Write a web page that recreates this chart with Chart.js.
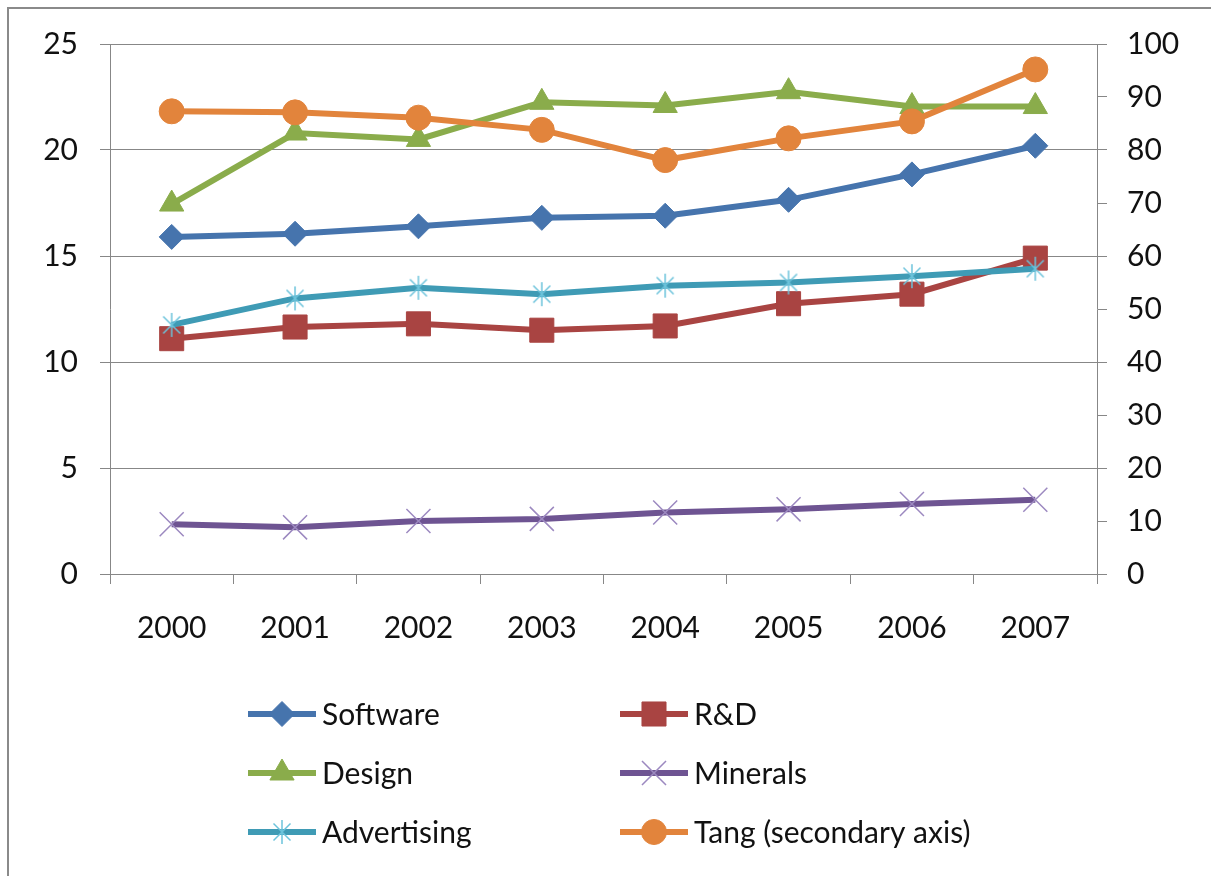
<!DOCTYPE html>
<html>
<head>
<meta charset="utf-8">
<script src="https://cdn.jsdelivr.net/npm/chart.js@4/dist/chart.umd.min.js"></script>
<style>
  body { margin: 0; background: #fff; }
  #wrap { width: 1211px; height: 876px; }
</style>
</head>
<body>
<div id="wrap"><canvas id="chart" width="1211" height="876"></canvas></div>
<script>
// values
const years       = ['2000', '2001', '2002', '2003', '2004', '2005', '2006', '2007']
const software    = [15.9, 16.05, 16.4, 16.8, 16.9, 17.65, 18.85, 20.2]
const rnd         = [11.1, 11.65, 11.8, 11.5, 11.7, 12.75, 13.2, 14.9]
const design      = [17.45, 20.8, 20.5, 22.25, 22.1, 22.75, 22.05, 22.05]
const minerals    = [2.35, 2.2, 2.5, 2.6, 2.9, 3.05, 3.3, 3.5]
const advertising = [11.75, 13.0, 13.5, 13.2, 13.6, 13.75, 14.05, 14.4]
const tang        = [87.3, 87.1, 86.1, 83.8, 78.1, 82.2, 85.4, 95.2]   // secondary axis

const FONT = 'Lato, "Open Sans", sans-serif'
const GRID = '#878787'

// Excel "star" marker: vertical bar + x
function starMarker(color) {
    const c = document.createElement('canvas')
    c.width = 26; c.height = 26
    const g = c.getContext('2d')
    g.strokeStyle = color
    g.lineWidth = 1.5
    g.beginPath()
    g.moveTo(13, 1); g.lineTo(13, 25)
    g.moveTo(4.5, 4.5); g.lineTo(21.5, 21.5)
    g.moveTo(21.5, 4.5); g.lineTo(4.5, 21.5)
    g.stroke()
    return c
}

function series(label, data, color, style, radius, extra) {
    return Object.assign({
        label: label,
        data: data,
        borderColor: color,
        backgroundColor: color,
        borderWidth: 6,
        pointStyle: style,
        pointRadius: radius,
        pointHoverRadius: radius,
        pointBackgroundColor: color,
        pointBorderColor: color,
        pointBorderWidth: 1,
        tension: 0,
        yAxisID: 'y'
    }, extra || {})
}

const datasets = [
    series('Software', software, '#4674AD', 'rectRot', 12.5, { order: 5 }),
    series('R&D', rnd, '#A94442', 'rect', 17, { order: 4 }),
    series('Design', design, '#8AAC4B', 'triangle', 14, { order: 3 }),
    series('Minerals', minerals, '#6E5492', 'crossRot', 17, { order: 2, pointBorderColor: '#9C89C0', pointBorderWidth: 1.5 }),
    series('Advertising', advertising, '#3F9BB5', starMarker('#6CC3DB'), 13, { order: 1 }),
    series('Tang (secondary axis)', tang, '#E2843C', 'circle', 12.5, { order: 0, yAxisID: 'y1' })
]

// gray frame round the chart
const framePlugin = {
    id: 'frame',
    beforeDraw(chart) {
        const ctx = chart.ctx
        ctx.save()
        ctx.strokeStyle = '#8a8a8a'
        ctx.lineWidth = 2
        ctx.strokeRect(8, 8, 1300, 1000)
        ctx.restore()
    }
}

// two-column legend like Excel's
const legendPlugin = {
    id: 'gridLegend',
    afterDraw(chart) {
        const ctx = chart.ctx
        const colX = [248, 620]
        const rowY = [714, 773, 832]
        ctx.save()
        chart.data.datasets.forEach((ds, i) => {
            const x = colX[i % 2]
            const y = rowY[Math.floor(i / 2)]
            ctx.strokeStyle = ds.borderColor
            ctx.lineWidth = 6
            ctx.beginPath()
            ctx.moveTo(x, y)
            ctx.lineTo(x + 68, y)
            ctx.stroke()
            ctx.fillStyle = ds.pointBackgroundColor
            ctx.strokeStyle = ds.pointBorderColor
            ctx.lineWidth = ds.pointBorderWidth
            Chart.helpers.drawPoint(ctx, {
                pointStyle: ds.pointStyle,
                radius: ds.pointRadius,
                rotation: 0,
                borderWidth: ds.pointBorderWidth
            }, x + 34, y)
            ctx.fillStyle = '#111'
            ctx.font = '30px ' + FONT
            ctx.textAlign = 'left'
            ctx.textBaseline = 'middle'
            ctx.fillText(ds.label, x + 74, y + 1)
        })
        ctx.restore()
    }
}

new Chart(document.getElementById('chart'), {
    type: 'line',
    data: { labels: years, datasets: datasets },
    plugins: [framePlugin, legendPlugin],
    options: {
        responsive: false,
        animation: false,
        layout: { padding: { top: 44, left: 0, right: 0, bottom: 222 } },
        plugins: {
            legend: { display: false },
            tooltip: { enabled: false }
        },
        scales: {
            x: {
                offset: true,
                grid: { offset: true, drawOnChartArea: false, color: GRID, tickLength: 10 },
                border: { color: GRID },
                ticks: { color: '#111', font: { size: 30, family: FONT }, padding: 26, maxRotation: 0 },
                afterFit(scale) { scale.height = 80 }
            },
            y: {
                position: 'left',
                min: 0, max: 25,
                grid: { color: GRID, tickLength: 10 },
                border: { color: GRID },
                ticks: { stepSize: 5, color: '#111', font: { size: 30, family: FONT }, padding: 22 },
                afterFit(scale) { scale.width = 110 }
            },
            y1: {
                position: 'right',
                min: 0, max: 100,
                grid: { drawOnChartArea: false, color: GRID, tickLength: 10 },
                border: { color: GRID },
                ticks: { stepSize: 10, color: '#111', font: { size: 30, family: FONT }, padding: 20 },
                afterFit(scale) { scale.width = 114 }
            }
        }
    }
})
</script>
</body>
</html>
